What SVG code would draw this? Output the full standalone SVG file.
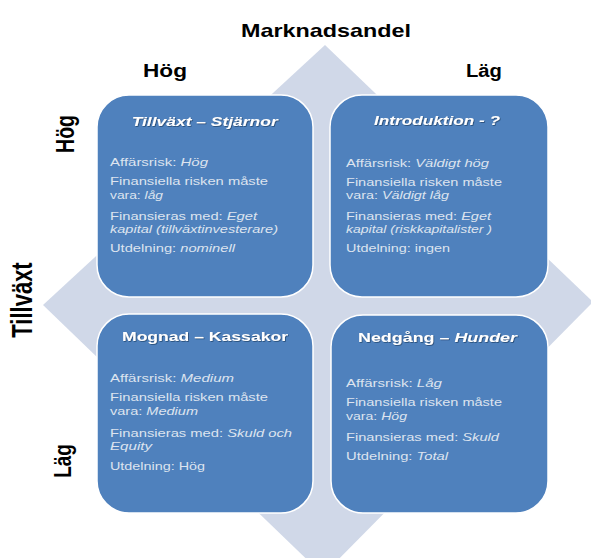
<svg xmlns="http://www.w3.org/2000/svg" width="591" height="558" viewBox="0 0 591 558">
  <defs>
    <filter id="titleShadow" x="-10%" y="-40%" width="120%" height="180%">
      <feDropShadow dx="0.8" dy="0.8" stdDeviation="0.6" flood-color="#1f3a60" flood-opacity="0.8"/>
    </filter>
  </defs>
  <style>
    .axis { font-family: "Liberation Sans", Arial, sans-serif; font-weight: bold; fill: #000; }
    .quad { fill: #4f81bd; stroke: #ffffff; stroke-width: 1.5; }
    .title { font-family: "Liberation Sans", Arial, sans-serif; font-weight: bold; font-size: 13.5px; fill: #ffffff; filter: url(#titleShadow); }
    .body { font-family: "Liberation Sans", Arial, sans-serif; font-size: 11.3px; fill: #dde4ef; }
    .it { font-style: italic; }
  </style>

  <rect width="591" height="558" fill="#ffffff"/>

  <!-- background diamond behind the four quadrants -->
  <polygon points="325,45 593,302 323,575 43,305" fill="#d0d8e8"/>

  <!-- axis labels -->
  <g id="axis-market-share">
    <text class="axis" x="241" y="37" font-size="19" textLength="170" lengthAdjust="spacingAndGlyphs">Marknadsandel</text>
    <text class="axis" x="143" y="77" font-size="18" textLength="44" lengthAdjust="spacingAndGlyphs">Hög</text>
    <text class="axis" x="466" y="77" font-size="18" textLength="36" lengthAdjust="spacingAndGlyphs">Läg</text>
  </g>
  <g id="axis-growth">
    <text class="axis" font-size="19.5" text-anchor="middle" transform="translate(74,134) scale(1.3,1) rotate(-90)">Hög</text>
    <text class="axis" font-size="22" text-anchor="middle" transform="translate(32,300) scale(1.3,1) rotate(-90)">Tillväxt</text>
    <text class="axis" font-size="19" text-anchor="middle" transform="translate(71,461) scale(1.3,1) rotate(-90)">Läg</text>
  </g>

  <!-- quadrant: high growth / high share -->
  <g id="quad-stars">
    <rect class="quad" x="97" y="95" width="216" height="202" rx="32" ry="32"/>
    <text class="title it" x="131.7" y="126" textLength="146" lengthAdjust="spacingAndGlyphs">Tillväxt – Stjärnor</text>
    <text class="body" x="110" y="166" textLength="98" lengthAdjust="spacingAndGlyphs">Affärsrisk: <tspan class="it">Hög</tspan></text>
    <text class="body" x="110" y="185" textLength="158" lengthAdjust="spacingAndGlyphs">Finansiella risken måste</text>
    <text class="body" x="110" y="198.5" textLength="53" lengthAdjust="spacingAndGlyphs">vara: <tspan class="it">låg</tspan></text>
    <text class="body" x="110" y="220" textLength="147" lengthAdjust="spacingAndGlyphs">Finansieras med: <tspan class="it">Eget</tspan></text>
    <text class="body it" x="110" y="233" textLength="168" lengthAdjust="spacingAndGlyphs">kapital (tillväxtinvesterare)</text>
    <text class="body" x="110" y="252" textLength="125" lengthAdjust="spacingAndGlyphs">Utdelning: <tspan class="it">nominell</tspan></text>
  </g>

  <!-- quadrant: high growth / low share -->
  <g id="quad-introduction">
    <rect class="quad" x="330" y="95" width="218" height="202" rx="32" ry="32"/>
    <text class="title it" x="374" y="125" textLength="126" lengthAdjust="spacingAndGlyphs">Introduktion - ?</text>
    <text class="body" x="346" y="166.5" textLength="143" lengthAdjust="spacingAndGlyphs">Affärsrisk: <tspan class="it">Väldigt hög</tspan></text>
    <text class="body" x="346" y="185.5" textLength="156" lengthAdjust="spacingAndGlyphs">Finansiella risken måste</text>
    <text class="body" x="346" y="199" textLength="103" lengthAdjust="spacingAndGlyphs">vara: <tspan class="it">Väldigt låg</tspan></text>
    <text class="body" x="346" y="220" textLength="145" lengthAdjust="spacingAndGlyphs">Finansieras med: <tspan class="it">Eget</tspan></text>
    <text class="body it" x="346" y="233" textLength="146" lengthAdjust="spacingAndGlyphs">kapital (riskkapitalister )</text>
    <text class="body" x="346" y="252" textLength="104" lengthAdjust="spacingAndGlyphs">Utdelning: ingen</text>
  </g>

  <!-- quadrant: low growth / high share -->
  <g id="quad-cash-cows">
    <rect class="quad" x="97" y="314" width="216" height="199" rx="32" ry="32"/>
    <text class="title" x="122" y="341" textLength="166" lengthAdjust="spacingAndGlyphs">Mognad – Kassakor</text>
    <text class="body" x="110" y="382" textLength="124" lengthAdjust="spacingAndGlyphs">Affärsrisk: <tspan class="it">Medium</tspan></text>
    <text class="body" x="110" y="401" textLength="158" lengthAdjust="spacingAndGlyphs">Finansiella risken måste</text>
    <text class="body" x="110" y="415" textLength="88" lengthAdjust="spacingAndGlyphs">vara: <tspan class="it">Medium</tspan></text>
    <text class="body" x="110" y="436.5" textLength="182" lengthAdjust="spacingAndGlyphs">Finansieras med: <tspan class="it">Skuld och</tspan></text>
    <text class="body it" x="110" y="450" textLength="42" lengthAdjust="spacingAndGlyphs">Equity</text>
    <text class="body" x="110" y="470" textLength="95" lengthAdjust="spacingAndGlyphs">Utdelning: Hög</text>
  </g>

  <!-- quadrant: low growth / low share -->
  <g id="quad-dogs">
    <rect class="quad" x="331" y="315" width="217" height="198" rx="32" ry="32"/>
    <text class="title" x="358" y="341.5" textLength="159" lengthAdjust="spacingAndGlyphs">Nedgång <tspan class="it">– Hunder</tspan></text>
    <text class="body" x="346" y="387" textLength="96" lengthAdjust="spacingAndGlyphs">Affärsrisk: <tspan class="it">Låg</tspan></text>
    <text class="body" x="346" y="405.5" textLength="156" lengthAdjust="spacingAndGlyphs">Finansiella risken måste</text>
    <text class="body" x="346" y="420" textLength="61" lengthAdjust="spacingAndGlyphs">vara: <tspan class="it">Hög</tspan></text>
    <text class="body" x="346" y="440.5" textLength="153" lengthAdjust="spacingAndGlyphs">Finansieras med: <tspan class="it">Skuld</tspan></text>
    <text class="body" x="346" y="459.5" textLength="102" lengthAdjust="spacingAndGlyphs">Utdelning: <tspan class="it">Total</tspan></text>
  </g>

  <!-- no connectors: the quadrants sit on the shared diamond -->
  <g id="connectors"/>
</svg>
